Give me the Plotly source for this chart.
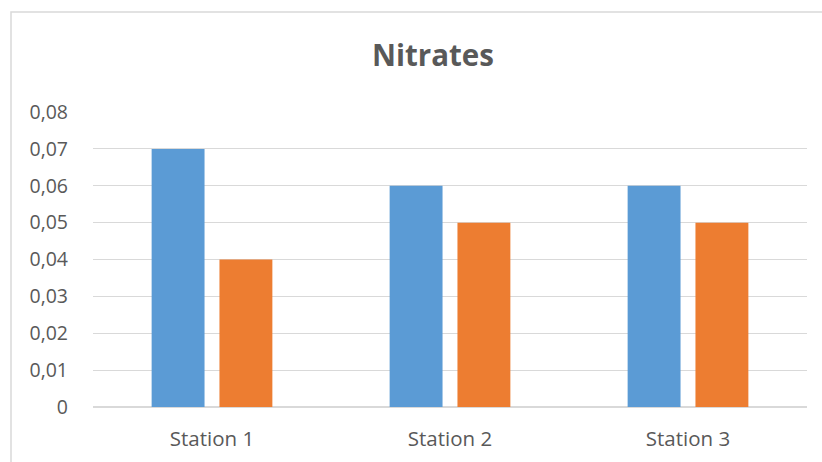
import plotly.graph_objects as go

# Nitrate concentration per station, two series
stations = ["Station 1", "Station 2", "Station 3"]
series_a = [0.07, 0.06, 0.06]
series_b = [0.04, 0.05, 0.05]
y_ticks = [0, 0.01, 0.02, 0.03, 0.04, 0.05, 0.06, 0.07, 0.08]

W, H = 822, 462
L, R, T, B = 93, 15, 112, 55
text_color = "#595959"
grid_color = "#D9D9D9"
font_family = "Open Sans, Liberation Sans, sans-serif"

fig = go.Figure()
fig.add_trace(go.Bar(x=stations, y=series_a, marker_color="#5B9BD5", marker_line_width=0))
fig.add_trace(go.Bar(x=stations, y=series_b, marker_color="#ED7D31", marker_line_width=0))

# chart frame (extends past the right and bottom edges)
pw = W - L - R
ph = H - T - B
fig.add_shape(type="rect", xref="paper", yref="paper",
              x0=(11 - L) / pw, x1=1.2,
              y0=-0.5, y1=1 + (T - 12) / ph,
              line=dict(color=grid_color, width=1.5), fillcolor="rgba(0,0,0,0)",
              layer="below")

fig.update_layout(
    width=W, height=H,
    margin=dict(l=L, r=R, t=T, b=B, autoexpand=False),
    paper_bgcolor="white", plot_bgcolor="white",
    separators=", ",
    barmode="group",
    bargap=0.43,
    bargroupgap=0.22,
    showlegend=False,
    font=dict(family=font_family, color=text_color, size=20),
    title=dict(text="<b>Nitrates</b>", x=433 / W, xanchor="center",
               y=1 - 56 / H, yanchor="middle", yref="container",
               font=dict(size=29.5, color=text_color, family=font_family)),
)
fig.update_yaxes(range=[0, 0.08], tickvals=y_ticks,
                 ticktext=["0" if v == 0 else f"{v:.2f}".replace(".", ",") for v in y_ticks],
                 showgrid=True, gridcolor=grid_color, gridwidth=1,
                 zeroline=True, zerolinecolor=grid_color, zerolinewidth=1.5,
                 showline=False, ticks="", ticklabelstandoff=24, automargin=False,
                 tickfont=dict(size=19.5, color=text_color))
fig.update_xaxes(showgrid=False, showline=False, ticks="",
                 ticklabelstandoff=17, automargin=False,
                 tickfont=dict(size=20.5, color=text_color))

fig.write_html("out.html")
